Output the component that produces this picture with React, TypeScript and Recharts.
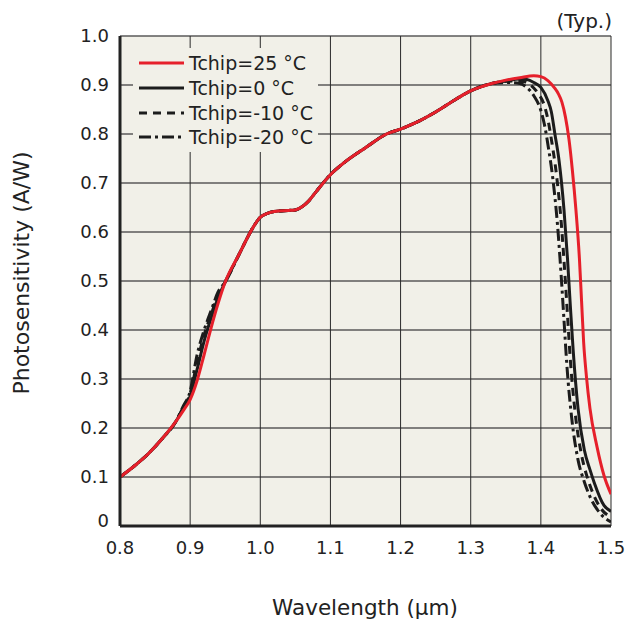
import { LineChart, Line, XAxis, YAxis, CartesianGrid, Legend } from "recharts";

// Photosensitivity vs wavelength, four chip temperatures (Typ.)

const FONT = "'DejaVu Sans', Verdana, sans-serif";
const PLOT_BG = "#f1f0e8";
const INK = "#222222";

// shared part of all curves
const lowWl = [0.8, 0.82, 0.84, 0.86, 0.88];
const lowPs = [0.1, 0.122, 0.147, 0.178, 0.214];

const midWl = [0.95, 0.97, 0.99, 1.0, 1.01, 1.02, 1.04, 1.05, 1.06, 1.07, 1.08, 1.1, 1.12, 1.15, 1.18, 1.2, 1.22, 1.25, 1.28, 1.3, 1.33];
const midPs = [0.498, 0.555, 0.61, 0.63, 0.638, 0.642, 0.644, 0.645, 0.652, 0.665, 0.683, 0.717, 0.742, 0.772, 0.8, 0.81, 0.822, 0.845, 0.872, 0.888, 0.903];

// rise region near 0.9 µm
const riseWl = [0.89, 0.9, 0.91, 0.92, 0.93, 0.94];
const rise25 = [0.235, 0.258, 0.297, 0.35, 0.405, 0.455];
const rise0 = [0.24, 0.265, 0.32, 0.378, 0.425, 0.466];
const riseM10 = [0.242, 0.27, 0.335, 0.39, 0.432, 0.472];
const riseM20 = [0.244, 0.275, 0.35, 0.4, 0.44, 0.478];

// cut-off region
const tail25Wl = [1.35, 1.37, 1.39, 1.4, 1.41, 1.42, 1.425, 1.43, 1.435, 1.44, 1.445, 1.45, 1.455, 1.458, 1.461, 1.465, 1.47, 1.48, 1.49, 1.5];
const tail25Ps = [0.91, 0.915, 0.919, 0.917, 0.909, 0.893, 0.882, 0.865, 0.835, 0.79, 0.725, 0.645, 0.545, 0.46, 0.375, 0.305, 0.24, 0.162, 0.103, 0.065];

const tail0Wl = [1.35, 1.37, 1.38, 1.39, 1.4, 1.41, 1.415, 1.42, 1.426, 1.433, 1.438, 1.442, 1.446, 1.453, 1.462, 1.47, 1.476, 1.49, 1.5];
const tail0Ps = [0.908, 0.912, 0.911, 0.905, 0.895, 0.868, 0.845, 0.8, 0.745, 0.645, 0.545, 0.45, 0.36, 0.24, 0.155, 0.115, 0.089, 0.042, 0.03];

const tailM10Wl = [1.36, 1.375, 1.385, 1.395, 1.405, 1.41, 1.416, 1.422, 1.429, 1.434, 1.438, 1.442, 1.449, 1.458, 1.466, 1.472, 1.486, 1.5];
const tailM10Ps = [0.908, 0.907, 0.9, 0.885, 0.858, 0.83, 0.78, 0.72, 0.62, 0.52, 0.43, 0.34, 0.23, 0.145, 0.1, 0.075, 0.035, 0.018];

const tailM20Wl = [1.355, 1.37, 1.38, 1.39, 1.4, 1.405, 1.411, 1.417, 1.424, 1.429, 1.433, 1.437, 1.444, 1.453, 1.462, 1.47, 1.485, 1.5];
const tailM20Ps = [0.905, 0.903, 0.895, 0.878, 0.848, 0.82, 0.77, 0.71, 0.61, 0.51, 0.42, 0.33, 0.22, 0.135, 0.09, 0.06, 0.025, 0.008];

const xTicks = [0.8, 0.9, 1.0, 1.1, 1.2, 1.3, 1.4, 1.5];
const yTicks = [0, 0.1, 0.2, 0.3, 0.4, 0.5, 0.6, 0.7, 0.8, 0.9, 1.0];

type Pt = { x: number; y: number };

function build(riseY: number[], tailX: number[], tailY: number[]): Pt[] {
  const xs = [...lowWl, ...riseWl, ...midWl, ...tailX];
  const ys = [...lowPs, ...riseY, ...midPs, ...tailY];
  return xs.map((x, i) => ({ x, y: ys[i] }));
}

const series = [
  { name: "Tchip=25 °C", color: "#e6202b", dash: undefined, data: build(rise25, tail25Wl, tail25Ps) },
  { name: "Tchip=0 °C", color: "#1c1c1c", dash: undefined, data: build(rise0, tail0Wl, tail0Ps) },
  { name: "Tchip=-10 °C", color: "#1c1c1c", dash: "8 6", data: build(riseM10, tailM10Wl, tailM10Ps) },
  { name: "Tchip=-20 °C", color: "#1c1c1c", dash: "12 4 3 4", data: build(riseM20, tailM20Wl, tailM20Ps) },
];

function LegendBox() {
  return (
    <div style={{ background: PLOT_BG, width: 185, height: 104, paddingTop: 3, boxSizing: "border-box" }}>
      {series.map((s) => (
        <div key={s.name} style={{ display: "flex", alignItems: "center", height: 24.7 }}>
          <svg width={56} height={10} style={{ flex: "none" }}>
            <line x1={6} x2={51} y1={5} y2={5} stroke={s.color} strokeWidth={3} strokeDasharray={s.dash} />
          </svg>
          <span style={{ fontFamily: FONT, fontSize: 19, color: INK, whiteSpace: "nowrap" }}>{s.name}</span>
        </div>
      ))}
    </div>
  );
}

function XTick(props: any) {
  const { x, y, payload } = props;
  return (
    <text x={x} y={y + 19.5} dy="0.36em" textAnchor="middle" fontSize={18} fill={INK} fontFamily={FONT}>
      {payload.value.toFixed(1)}
    </text>
  );
}

function YTick(props: any) {
  const { x, y, payload } = props;
  const v = payload.value as number;
  return (
    <text x={x} y={v === 0 ? y - 5 : y} dy="0.36em" textAnchor="end" fontSize={18} fill={INK} fontFamily={FONT}>
      {v === 0 ? "0" : v.toFixed(1)}
    </text>
  );
}

export default function App() {
  return (
    <div style={{ position: "absolute", left: 0, top: 0, width: 628, height: 626, background: "#fff" }}>
      <div
        style={{
          position: "absolute",
          right: 16,
          top: 9,
          fontFamily: FONT,
          fontSize: 20,
          color: INK,
        }}
      >
        (Typ.)
      </div>
      <LineChart width={628} height={626} margin={{ top: 36, right: 17, left: 60, bottom: 70 }}>
        <CartesianGrid horizontal vertical={false} stroke="#5a5a5a" strokeWidth={1.3} fill={PLOT_BG} />
        <CartesianGrid horizontal={false} vertical stroke="#2a2a2a" strokeWidth={1} />
        <XAxis
          type="number"
          dataKey="x"
          domain={[0.8, 1.5]}
          ticks={xTicks}
          allowDataOverflow
          tickSize={0}
          tick={<XTick />}
          axisLine={{ stroke: INK, strokeWidth: 3 }}
          height={30}
          label={{
            content: () => (
              <text x={365} y={607} dy="0.36em" textAnchor="middle" fontSize={21.5} fill={INK} fontFamily={FONT}>
                Wavelength (μm)
              </text>
            ),
          }}
        />
        <YAxis
          type="number"
          domain={[0, 1]}
          ticks={yTicks}
          allowDataOverflow
          tickSize={0}
          tickMargin={11}
          tick={<YTick />}
          axisLine={{ stroke: INK, strokeWidth: 3 }}
          width={60}
          label={{
            content: () => (
              <text
                x={21}
                y={273}
                dy="0.36em"
                textAnchor="middle"
                fontSize={22}
                fill={INK}
                fontFamily={FONT}
                transform="rotate(-90 21 273)"
              >
                Photosensitivity (A/W)
              </text>
            ),
          }}
        />
        <XAxis xAxisId="top" orientation="top" type="number" domain={[0.8, 1.5]} tick={false} tickLine={false} height={0} axisLine={{ stroke: INK, strokeWidth: 3 }} />
        <YAxis yAxisId="right" orientation="right" type="number" domain={[0, 1]} tick={false} tickLine={false} width={0} axisLine={{ stroke: INK, strokeWidth: 3 }} />
        <Legend
          layout="vertical"
          align="center"
          verticalAlign="middle"
          content={<LegendBox />}
          wrapperStyle={{ left: 133, top: 48, width: 185, height: 104 }}
        />
        {/* drawn back to front so the 25 °C curve ends up on top */}
        {[...series].reverse().map((s) => (
          <Line
            key={s.name}
            data={s.data}
            dataKey="y"
            name={s.name}
            type="monotone"
            stroke={s.color}
            strokeWidth={3}
            strokeDasharray={s.dash}
            dot={false}
            activeDot={false}
            isAnimationActive={false}
          />
        ))}
      </LineChart>
    </div>
  );
}
